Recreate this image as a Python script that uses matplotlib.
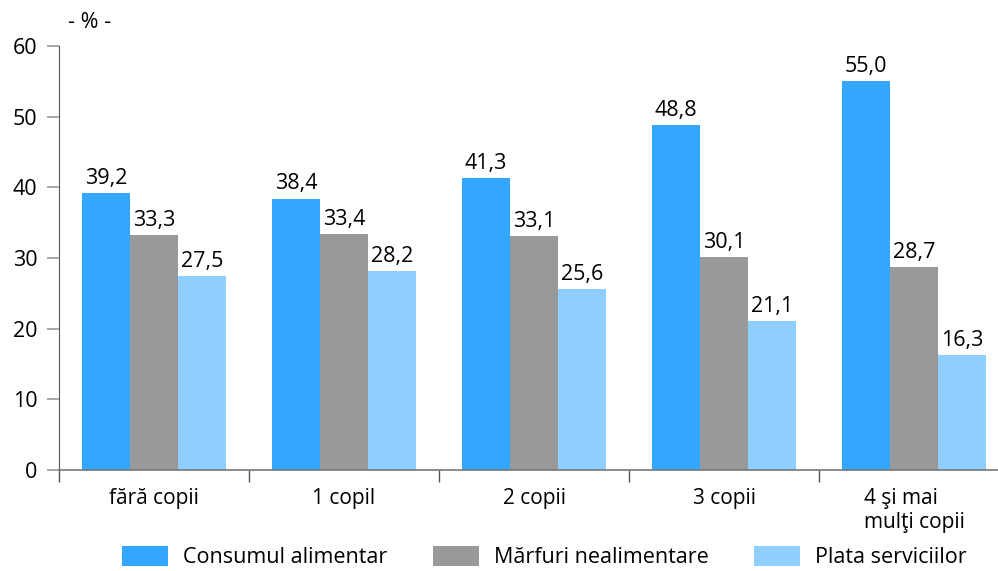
import numpy as np
import matplotlib.pyplot as plt

# data
categories = ["fără copii", "1 copil", "2 copii", "3 copii", "4 şi mai\nmulţi copii"]
series_names = ["Consumul alimentar", "Mărfuri nealimentare", "Plata serviciilor"]
alimentar = [39.2, 38.4, 41.3, 48.8, 55.0]
nealimentar = [33.3, 33.4, 33.1, 30.1, 28.7]
servicii = [27.5, 28.2, 25.6, 21.1, 16.3]
yticks = [0, 10, 20, 30, 40, 50, 60]

colors = ["#33a6ff", "#999999", "#8ecfff"]
plt.rcParams['font.family'] = ['Open Sans', 'DejaVu Sans']
fs = 15.5

fig = plt.figure(figsize=(9.98, 5.71), dpi=100)
ax = fig.add_axes([59/998, 101/571, 1 - 59/998, 424/571])

x = np.arange(len(categories))
w = 0.2526
for k, (vals, name) in enumerate(zip([alimentar, nealimentar, servicii], series_names)):
    bars = ax.bar(x + (k - 1)*w, vals, width=w, color=colors[k], label=name)
    ax.bar_label(bars, labels=[f"{v:.1f}".replace(".", ",") for v in vals],
                 padding=3, fontsize=fs)

ax.set_xlim(-0.5, 4.442)
ax.set_ylim(0, 60)
ax.set_yticks(yticks)
ax.tick_params(axis='y', length=8.6, width=1.2, color="#999999", pad=7, labelsize=fs)
ax.set_xticks(x)
ax.set_xticklabels(categories, fontsize=15, multialignment='left')
ax.set_xticks(np.arange(len(categories)) - 0.5, minor=True)
ax.tick_params(axis='x', which='major', length=0, pad=13)
ax.tick_params(axis='x', which='minor', length=8.6, width=1, color="#555555")

for s in ['top', 'right']:
    ax.spines[s].set_visible(False)
ax.spines['left'].set_color("#555555")
ax.spines['bottom'].set_color("#777777")
ax.spines['bottom'].set_linewidth(1.2)

fig.text(68/998, 1 - 22/571, "- % -", fontsize=fs, va='center', ha='left')

fig.legend(loc='center left', bbox_to_anchor=(122/998, 14/571), ncol=3,
           frameon=False, fontsize=fs, handlelength=2.14, handleheight=1.1,
           handletextpad=0.7, columnspacing=2.1, borderpad=0, borderaxespad=0)

fig.savefig("out.png", dpi=100)
